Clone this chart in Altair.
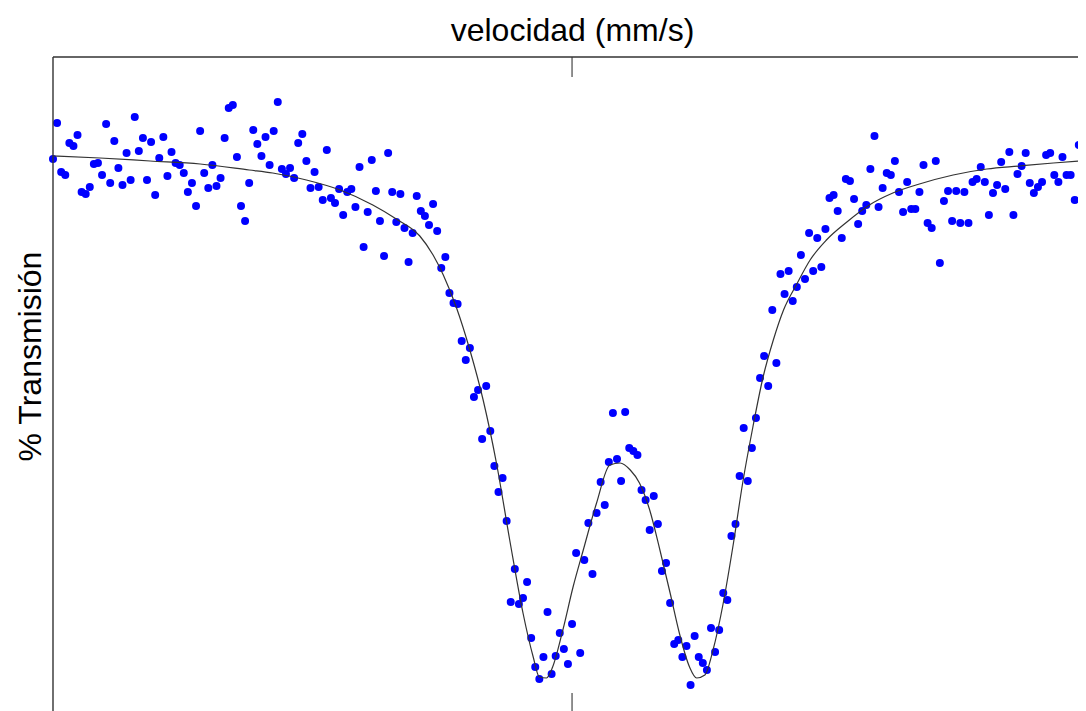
import altair as alt
import pandas as pd

# Mössbauer-like spectrum: channel velocities (mm/s) and measured transmission (%)
velocidad = [
    -5.08, -5.04, -5.00, -4.96, -4.92, -4.88, -4.84, -4.80, -4.76, -4.72,
    -4.68, -4.64, -4.60, -4.56, -4.52, -4.48, -4.44, -4.40, -4.36, -4.32,
    -4.28, -4.24, -4.20, -4.16, -4.12, -4.08, -4.04, -4.00, -3.96, -3.92,
    -3.88, -3.84, -3.80, -3.76, -3.72, -3.68, -3.64, -3.60, -3.56, -3.52,
    -3.48, -3.44, -3.40, -3.36, -3.32, -3.28, -3.24, -3.20, -3.16, -3.12,
    -3.08, -3.04, -3.00, -2.96, -2.92, -2.88, -2.84, -2.80, -2.76, -2.72,
    -2.68, -2.64, -2.60, -2.56, -2.52, -2.48, -2.44, -2.40, -2.36, -2.32,
    -2.28, -2.24, -2.20, -2.16, -2.12, -2.08, -2.04, -2.00, -1.96, -1.92,
    -1.88, -1.84, -1.80, -1.76, -1.72, -1.68, -1.64, -1.60, -1.56, -1.52,
    -1.48, -1.44, -1.40, -1.36, -1.32, -1.28, -1.24, -1.20, -1.16, -1.12,
    -1.08, -1.04, -1.00, -0.96, -0.92, -0.88, -0.84, -0.80, -0.76, -0.72,
    -0.68, -0.64, -0.60, -0.56, -0.52, -0.48, -0.44, -0.40, -0.36, -0.32,
    -0.28, -0.24, -0.20, -0.16, -0.12, -0.08, -0.04, 0.00, 0.04, 0.08,
    0.12, 0.16, 0.20, 0.24, 0.28, 0.32, 0.36, 0.40, 0.44, 0.48,
    0.52, 0.56, 0.60, 0.64, 0.68, 0.72, 0.76, 0.80, 0.84, 0.88,
    0.92, 0.96, 1.00, 1.04, 1.08, 1.12, 1.16, 1.20, 1.24, 1.28,
    1.32, 1.36, 1.40, 1.44, 1.48, 1.52, 1.56, 1.60, 1.64, 1.68,
    1.72, 1.76, 1.80, 1.84, 1.88, 1.92, 1.96, 2.00, 2.04, 2.08,
    2.12, 2.16, 2.20, 2.24, 2.28, 2.32, 2.36, 2.40, 2.44, 2.48,
    2.52, 2.56, 2.60, 2.64, 2.68, 2.72, 2.76, 2.80, 2.84, 2.88,
    2.92, 2.96, 3.00, 3.04, 3.08, 3.12, 3.16, 3.20, 3.24, 3.28,
    3.32, 3.36, 3.40, 3.44, 3.48, 3.52, 3.56, 3.60, 3.64, 3.68,
    3.72, 3.76, 3.80, 3.84, 3.88, 3.92, 3.96, 4.00, 4.04, 4.08,
    4.12, 4.16, 4.20, 4.24, 4.28, 4.32, 4.36, 4.40, 4.44, 4.48,
    4.52, 4.56, 4.60, 4.64, 4.68, 4.72, 4.76, 4.80, 4.84, 4.88,
    4.92, 4.96, 5.00, 5.04,
]

transmision = [
    99.91, 100.27, 99.78, 99.75, 100.07, 100.04, 100.15, 99.58, 99.56, 99.63,
    99.86, 99.87, 99.75, 100.26, 99.67, 100.09, 99.82, 99.65, 99.97, 99.70,
    100.33, 99.99, 100.12, 99.70, 100.08, 99.55, 99.92, 100.13, 99.74, 99.98,
    99.87, 99.85, 99.77, 99.58, 99.67, 99.44, 100.19, 99.77, 99.62, 99.85,
    99.64, 99.72, 100.12, 100.42, 100.45, 99.93, 99.44, 99.29, 99.67, 100.20,
    100.06, 99.94, 100.13, 99.85, 100.19, 100.48, 99.81, 99.76, 99.82, 99.72,
    100.07, 100.16, 99.89, 99.62, 99.78, 99.63, 99.50, 100.00, 99.52, 99.47,
    99.61, 99.35, 99.58, 99.61, 99.43, 99.83, 99.03, 99.38, 99.90, 99.59,
    99.29, 98.94, 99.97, 99.58, 99.28, 99.56, 99.22, 98.88, 99.17, 99.54,
    99.39, 99.34, 99.25, 99.46, 99.19, 98.82, 98.93, 98.57, 98.47, 98.46,
    98.09, 97.90, 98.02, 97.53, 97.60, 97.11, 97.64, 97.19, 96.84, 96.58,
    96.72, 96.29, 95.48, 95.81, 95.46, 95.52, 95.68, 95.12, 94.83, 94.71,
    94.93, 95.38, 94.76, 94.94, 95.17, 95.01, 94.86, 95.26, 95.97, 94.97,
    95.90, 96.27, 95.76, 96.37, 96.68, 96.45, 96.88, 97.37, 96.91, 96.69,
    97.38, 97.02, 96.99, 96.95, 96.60, 96.50, 96.20, 96.54, 96.26, 95.79,
    95.87, 95.47, 95.06, 95.10, 94.93, 95.04, 94.65, 95.14, 94.93, 94.87,
    94.80, 95.22, 94.98, 95.20, 95.57, 95.50, 96.14, 96.26, 96.74, 97.22,
    96.69, 97.02, 97.32, 97.72, 97.94, 97.64, 98.40, 97.87, 98.76, 98.56,
    98.79, 98.49, 98.63, 98.95, 98.71, 99.17, 98.79, 99.12, 98.83, 99.21,
    99.52, 99.55, 99.39, 99.12, 99.71, 99.69, 99.51, 99.26, 99.39, 99.45,
    99.81, 100.14, 99.43, 99.62, 99.77, 99.75, 99.89, 99.58, 99.38, 99.68,
    99.41, 99.41, 99.58, 99.85, 99.27, 99.22, 99.89, 98.87, 99.49, 99.59,
    99.29, 99.59, 99.27, 99.58, 99.27, 99.68, 99.71, 99.83, 99.68, 99.35,
    99.57, 99.65, 99.88, 99.61, 99.98, 99.35, 99.76, 99.84, 99.97, 99.67,
    99.57, 99.63, 99.68, 99.95, 99.97, 99.75, 99.68, 99.93, 99.75, 99.75,
    99.50, 100.05, 99.86, 99.82,
]

# Fitted curve
ajuste_vel = [
    -5.08, -4.62, -4.13, -3.64, -3.16, -2.93, -2.60, -2.27, -1.95, -1.72,
    -1.49, -1.36, -1.26, -1.13, -1.00, -0.87, -0.74, -0.61, -0.48, -0.38,
    -0.32, -0.25, -0.19, -0.09, 0.01, 0.11, 0.24, 0.37, 0.47, 0.57,
    0.66, 0.76, 0.86, 0.96, 1.05, 1.15, 1.22, 1.30, 1.38, 1.48,
    1.58, 1.67, 1.77, 1.87, 1.97, 2.07, 2.20, 2.33, 2.49, 2.69,
    2.91, 3.14, 3.40, 3.73, 4.06, 4.38, 4.71, 5.08,
]
ajuste_trans = [
    99.94, 99.92, 99.89, 99.86, 99.80, 99.77, 99.70, 99.60, 99.45, 99.31,
    99.14, 98.95, 98.75, 98.42, 98.00, 97.50, 96.87, 96.10, 95.37, 94.93,
    94.73, 94.72, 94.83, 95.20, 95.63, 96.00, 96.47, 96.85, 96.87, 96.80,
    96.67, 96.40, 96.00, 95.57, 95.17, 94.83, 94.72, 94.75, 95.00, 95.47,
    96.07, 96.67, 97.23, 97.73, 98.10, 98.40, 98.66, 98.90, 99.10, 99.28,
    99.45, 99.57, 99.66, 99.75, 99.81, 99.84, 99.87, 99.90,
]

tick_vel = [0.0]

puntos = pd.DataFrame({"velocidad": velocidad, "transmision": transmision})
ajuste = pd.DataFrame({"velocidad": ajuste_vel, "transmision": ajuste_trans})
marcas = pd.DataFrame({"velocidad": tick_vel})

# visible part of the plot area (the frame runs past the right/bottom window edge)
W, H = 1025, 656
FONT = "Liberation Sans"

xs = alt.Scale(domain=[-5.08, 4.952], nice=False, zero=False)
ys = alt.Scale(domain=[94.37, 100.93], nice=False, zero=False)

xax = alt.Axis(orient="top", title="velocidad (mm/s)", labels=False, ticks=False,
               domain=False, grid=False, titleFont=FONT, titleFontSize=32,
               titleFontWeight="normal", titleColor="#000000", titlePadding=10,
               titleX=519)
yax = alt.Axis(orient="left", title="% Transmisión", labels=False, ticks=False,
               domain=False, grid=False, titleFont=FONT, titleFontSize=32,
               titleFontWeight="normal", titleColor="#000000", titlePadding=6,
               titleY=299)

X = alt.X("velocidad:Q", scale=xs, axis=xax)
Y = alt.Y("transmision:Q", scale=ys, axis=yax)

pts = alt.Chart(puntos).mark_circle(color="#0000FF", size=64, opacity=1).encode(x=X, y=Y)
linea = alt.Chart(ajuste).mark_line(color="#333333", strokeWidth=1.2,
                                    interpolate="monotone").encode(x=X, y=Y)
tick_top = alt.Chart(marcas).mark_rule(color="#222222", strokeWidth=1).encode(
    x=X, y=alt.value(0), y2=alt.value(20))
tick_bot = alt.Chart(marcas).mark_rule(color="#222222", strokeWidth=1).encode(
    x=X, y=alt.value(H - 20), y2=alt.value(H))
borde_izq = alt.Chart(marcas).mark_rule(color="#333333", strokeWidth=1.4).encode(
    x=alt.value(0), y=alt.value(0), y2=alt.value(H))
borde_sup = alt.Chart(marcas).mark_rule(color="#333333", strokeWidth=1.4).encode(
    x=alt.value(0), x2=alt.value(W + 10), y=alt.value(0))

chart = alt.layer(pts, linea, tick_top, tick_bot, borde_izq, borde_sup).properties(
    width=W, height=H,
    autosize=alt.AutoSizeParams(type="none"),
    padding={"left": 45, "top": 49, "right": 0, "bottom": 0},
    background="white",
).configure_view(strokeWidth=0)

chart.save("out.html", embed_options={"renderer": "svg", "actions": False})
